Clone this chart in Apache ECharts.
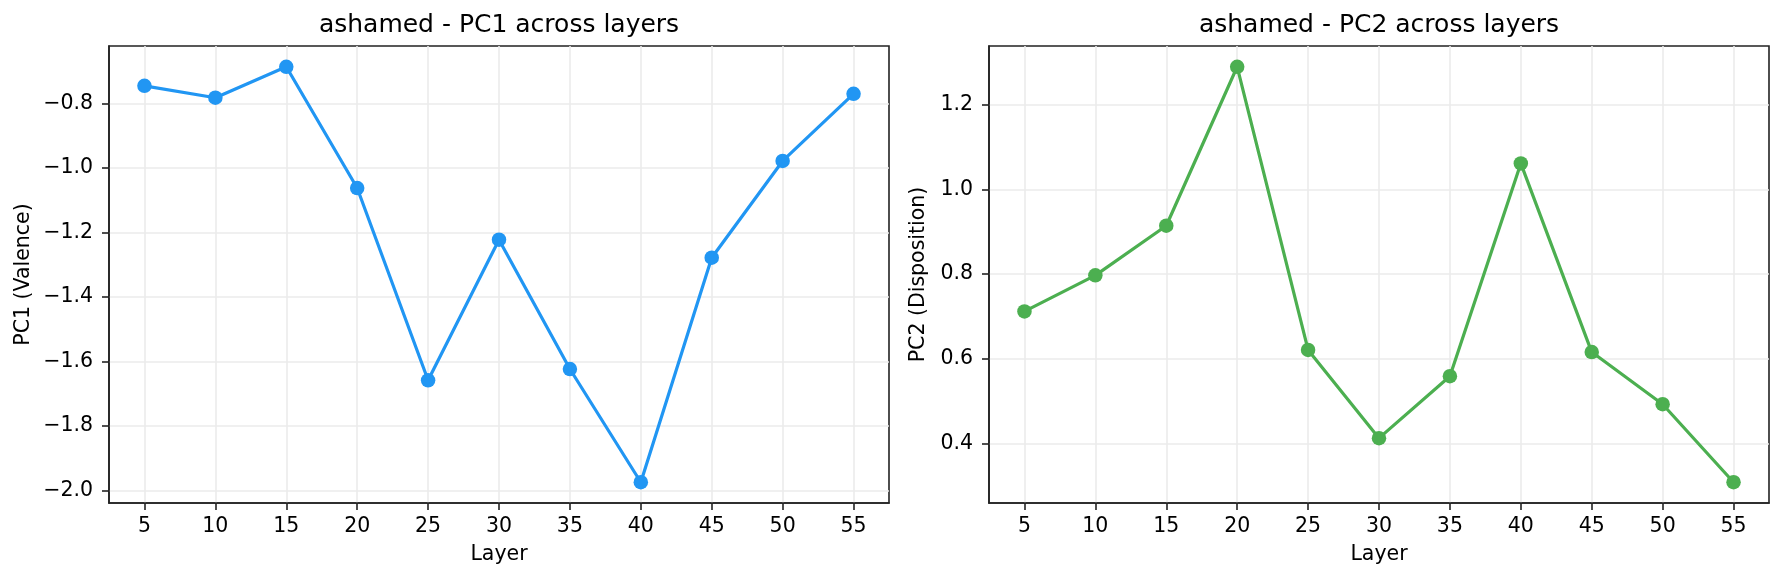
<!DOCTYPE html>
<html>
<head>
<meta charset="utf-8">
<script src="https://cdn.jsdelivr.net/npm/echarts@6/dist/echarts.min.js"></script>
<style>
html,body{margin:0;padding:0;background:#fff;}
#chart{width:1784px;height:581px;}
</style>
</head>
<body>
<div id="chart"></div>
<script>
const layers = [5, 10, 15, 20, 25, 30, 35, 40, 45, 50, 55];
const pc1Values = [-0.745, -0.782, -0.686, -1.062, -1.658, -1.222, -1.623, -1.974, -1.278, -0.978, -0.770];
const pc2Values = [0.712, 0.797, 0.914, 1.289, 0.621, 0.413, 0.559, 1.061, 0.616, 0.493, 0.309];
const xTicks = [5, 10, 15, 20, 25, 30, 35, 40, 45, 50, 55];
const pc1Ticks = [-2.0, -1.8, -1.6, -1.4, -1.2, -1.0, -0.8];
const pc2Ticks = [0.4, 0.6, 0.8, 1.0, 1.2];
const titles = ['ashamed - PC1 across layers', 'ashamed - PC2 across layers'];
const yNames = ['PC1 (Valence)', 'PC2 (Disposition)'];
const xName = 'Layer';

const FONT = 'DejaVu Sans';
const TICK_FS = 20.5;

function bounds(arr) {
  const mn = Math.min(...arr), mx = Math.max(...arr);
  const m = (mx - mn) * 0.05;
  return [mn - m, mx + m];
}
const xb = bounds(layers);
const b1 = bounds(pc1Values);
const b2 = bounds(pc2Values);

function fmt(v) {
  return v.toFixed(1).replace('-', '\u2212');
}

const grids = [
  {left: 109, right: 895, top: 46, bottom: 78},
  {left: 989, right: 15, top: 46, bottom: 78}
];

function xAxis(gi) {
  return {
    type: 'value', gridIndex: gi, min: xb[0], max: xb[1],
    name: xName, nameLocation: 'middle', nameGap: 41,
    nameTextStyle: {fontFamily: FONT, fontSize: TICK_FS, color: '#000'},
    axisLine: {show: true, lineStyle: {color: '#222', width: 1.6}},
    axisTick: {show: true, length: 7, lineStyle: {color: '#222', width: 1.6}, customValues: xTicks},
    axisLabel: {fontFamily: FONT, fontSize: TICK_FS, color: '#000', margin: 13, customValues: xTicks,
      formatter: v => String(v)},
    splitLine: {show: true, lineStyle: {color: '#ebebeb', width: 1.6}}
  };
}
function yAxis(gi, b, ticks, name, gap) {
  return {
    type: 'value', gridIndex: gi, min: b[0], max: b[1],
    name: name, nameLocation: 'middle', nameGap: gap, nameRotate: 90,
    nameTextStyle: {fontFamily: FONT, fontSize: TICK_FS, color: '#000'},
    axisLine: {show: true, lineStyle: {color: '#222', width: 1.6}},
    axisTick: {show: true, length: 7, lineStyle: {color: '#222', width: 1.6}, customValues: ticks},
    axisLabel: {fontFamily: FONT, fontSize: TICK_FS, color: '#000', margin: 16, customValues: ticks,
      formatter: v => fmt(v)},
    splitLine: {show: true, lineStyle: {color: '#ebebeb', width: 1.6}}
  };
}

const chart = echarts.init(document.getElementById('chart'), null, {renderer: 'canvas'});
chart.setOption({
  backgroundColor: '#fff',
  animation: false,
  title: [
    {text: titles[0], left: 499, top: 13, textAlign: 'center', padding: 0,
     textStyle: {fontFamily: FONT, fontSize: 25, fontWeight: 'normal', color: '#000'}},
    {text: titles[1], left: 1379, top: 13, textAlign: 'center', padding: 0,
     textStyle: {fontFamily: FONT, fontSize: 25, fontWeight: 'normal', color: '#000'}}
  ],
  grid: grids.map(g => Object.assign({show: true, borderColor: '#222', borderWidth: 1.6, backgroundColor: 'transparent'}, g)),
  xAxis: [xAxis(0), xAxis(1)],
  yAxis: [yAxis(0, b1, pc1Ticks, yNames[0], 75), yAxis(1, b2, pc2Ticks, yNames[1], 60)],
  series: [
    {type: 'line', xAxisIndex: 0, yAxisIndex: 0, data: layers.map((l, i) => [l, pc1Values[i]]),
     symbol: 'circle', symbolSize: 14.5, itemStyle: {color: '#2196F3'}, lineStyle: {color: '#2196F3', width: 3.2}},
    {type: 'line', xAxisIndex: 1, yAxisIndex: 1, data: layers.map((l, i) => [l, pc2Values[i]]),
     symbol: 'circle', symbolSize: 14.5, itemStyle: {color: '#4CAF50'}, lineStyle: {color: '#4CAF50', width: 3.2}}
  ]
});
</script>
</body>
</html>
